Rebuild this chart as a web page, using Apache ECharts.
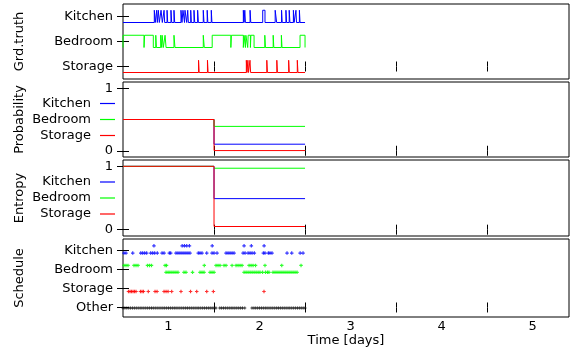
<!DOCTYPE html>
<html><head><meta charset="utf-8">
<script src="https://cdn.jsdelivr.net/npm/echarts@6/dist/echarts.min.js"></script>
<style>html,body{margin:0;padding:0;background:#fff}#c{width:571px;height:353px}</style>
</head><body><div id="c"></div>
<script>
// ---------- data (time in days from start of observation) ----------
const rooms = ['Kitchen', 'Bedroom', 'Storage'];
const gtLabels = ['Storage', 'Bedroom', 'Kitchen'];          // y levels 0,1,2 in ground-truth panel
const schedLabels = ['Other', 'Storage', 'Bedroom', 'Kitchen']; // y levels 0..3 in schedule panel
const dayTickLabels = ['1', '2', '3', '4', '5'];

// ground truth occupancy pulses [start, end]
const gtKitchen = [[0.344,0.355],[0.370,0.377],[0.388,0.399],[0.418,0.432],[0.451,0.458],[0.484,0.491],
  [0.527,0.535],[0.560,0.568],[0.637,0.648],[0.659,0.676],[0.681,0.700],[0.711,0.718],[0.744,0.751],
  [0.780,0.788],[0.820,0.828],[0.882,0.890],[0.925,0.932],[0.970,0.977],[1.322,1.330],[1.338,1.345],
  [1.396,1.404],[1.535,1.560],[1.672,1.688],[1.742,1.749],[1.790,1.797],[1.826,1.834],[1.872,1.880],
  [1.900,1.906],[1.938,1.945]];
const gtBedroom = [[0.000,0.231],[0.237,0.333],[0.360,0.367],[0.414,0.425],[0.430,0.443],[0.462,0.473],
  [0.560,0.571],[0.882,0.893],[0.980,1.185],[1.191,1.322],[1.330,1.345],[1.350,1.370],[1.375,1.400],
  [1.405,1.440],[1.558,1.565],[1.650,1.657],[1.740,1.747],[1.945,2.000]];
const gtStorage = [[0.830,0.837],[0.928,0.935],[1.355,1.362],[1.372,1.379],[1.395,1.402],[1.580,1.587],
  [1.690,1.697],[1.820,1.827],[1.915,1.922]];
const gtEnd = 2.0;

// probability / entropy: value before and after the change at t = 1
const changeT = 1.0;
const probKitchen = [0.5, 0.105];
const probBedroom = [0.5, 0.39];
const probStorage = [0.5, 0.003];
const entKitchen = [1.0, 0.49];
const entBedroom = [1.0, 0.97];
const entStorage = [1.0, 0.05];

// schedule marks (times)
const schedKitchenHi = [0.340,0.650,0.675,0.700,0.730,0.980,1.330,1.410,1.550];
const schedKitchenLo = [0.011,0.033,0.107,0.195,0.216,0.238,0.260,0.304,0.326,0.348,0.377,0.429,0.451,0.509,
  0.524,0.582,0.604,0.626,0.648,0.670,0.692,0.714,0.736,0.827,0.846,0.868,0.920,0.978,1.000,1.033,1.132,
  1.154,1.176,1.198,1.220,1.319,1.341,1.374,1.396,1.418,1.443,1.542,1.560,1.597,1.615,1.637,1.802,1.854,
  1.946,1.978];
const schedBedroomHi = [0.011,0.033,0.055,0.121,0.143,0.165,0.269,0.291,0.313,0.462,0.478,0.893,1.022,1.044,
  1.066,1.110,1.132,1.198,1.242,1.264,1.286,1.308,1.385,1.407,1.429,1.456,1.560,1.744,1.956];
const schedBedroomLo = [0.473,0.495,0.516,0.538,0.560,0.582,0.604,0.670,0.692,0.764,0.846,0.868,0.890,0.956,
  0.978,1.000,1.330,1.352,1.374,1.396,1.418,1.440,1.462,1.484,1.505,1.533,1.566,1.588,1.604,1.648,1.670,
  1.692,1.714,1.736,1.758,1.780,1.802,1.824,1.846,1.868,1.890,1.912];
const schedStorage = [0.060,0.077,0.093,0.110,0.126,0.143,0.192,0.209,0.225,0.278,0.352,0.374,0.451,0.473,
  0.495,0.535,0.637,0.742,0.810,0.920,0.993,1.549];
const schedOther = [0.000,0.021,0.042,0.063,0.083,0.104,0.125,0.146,0.167,0.188,0.208,0.229,0.250,0.271,
  0.292,0.313,0.333,0.354,0.375,0.396,0.417,0.438,0.458,0.479,0.500,0.521,0.542,0.563,0.583,0.604,0.625,
  0.646,0.667,0.688,0.708,0.729,0.750,0.771,0.792,0.813,0.833,0.854,0.875,0.896,0.917,0.938,0.958,0.979,
  1.000,1.021,1.063,1.083,1.104,1.125,1.146,1.167,1.188,1.208,1.229,1.250,1.271,1.292,1.313,1.338,1.417,
  1.438,1.458,1.479,1.500,1.521,1.542,1.563,1.583,1.604,1.625,1.646,1.667,1.688,1.708,1.729,1.750,1.771,
  1.792,1.813,1.833,1.854,1.875,1.896,1.917,1.938,1.958,1.979,2.000];

// ---------- styling / helpers ----------
const C = {Kitchen:'#0000ff', Bedroom:'#00ff00', Storage:'#ff0000', Other:'#000000'};
const FONT = 'DejaVu Sans';
const LO = -0.24, HI = 0.25;

function pulseLine(pulses, level) {
  const pts = [];
  if (!pulses.length || pulses[0][0] > 0) pts.push([0, level + LO]);
  for (const [s, e] of pulses) {
    pts.push([s, level + LO]); pts.push([s, level + HI]);
    pts.push([e, level + HI]); pts.push([e, level + LO]);
  }
  pts.push([gtEnd, level + LO]);
  return pts;
}
// horizontal segment before the change, vertical jump, horizontal after; tiny jumps drawn as separate pieces
function stepLine(vals) {
  if (Math.abs(vals[0] - vals[1]) < 0.1)
    return [[0, vals[0]], [changeT, vals[0]], [changeT, '-'], [changeT, vals[1]], [gtEnd, vals[1]]];
  return [[0, vals[0]], [changeT, vals[0]], [changeT, vals[1]], [gtEnd, vals[1]]];
}
function marks(ts, y) { return ts.map(t => [t, y]); }

const grids = [
  {left:123, right:2, top:4, height:75},
  {left:123, right:2, top:82, height:75},
  {left:123, right:2, top:160, height:76},
  {left:123, right:2, top:239, height:78}
].map(g => Object.assign(g, {show:true, borderColor:'#000', borderWidth:1, backgroundColor:'rgba(0,0,0,0)'}));

const XMAX = 4.9;
const xAxes = [];
for (let i = 0; i < 4; i++) {
  for (const pos of ['bottom', 'top']) {
    const last = (i === 3 && pos === 'bottom');
    xAxes.push({
      gridIndex:i, type:'value', position:pos, min:0, max:XMAX,
      axisLine:{show:false}, splitLine:{show:false},
      axisTick:{show:true, inside:true, length:5, customValues:[1,2,3,4], lineStyle:{color:'#000', width:1}},
      axisLabel: last ? {show:true, customValues:[0.5,1.5,2.5,3.5,4.5],
        formatter: v => dayTickLabels[Math.round(v - 0.5)], color:'#000', fontFamily:FONT, fontSize:13, margin:3}
        : {show:false},
      name: last ? 'Time [days]' : '', nameLocation:'middle', nameGap:17,
      nameTextStyle:{color:'#000', fontFamily:FONT, fontSize:13}
    });
  }
}

const yDefs = [
  {min:-0.5, max:2.5, ticks:[0,1,2], fmt: v => gtLabels[Math.round(v)], name:'Grd.truth'},
  {min:-0.1, max:1.1, ticks:[0,1], fmt: v => String(Math.round(v)), name:'Probability'},
  {min:-0.1, max:1.1, ticks:[0,1], fmt: v => String(Math.round(v)), name:'Entropy'},
  {min:-0.5, max:3.6, ticks:[0,1,2,3], fmt: v => schedLabels[Math.round(v)], name:'Schedule'}
];
const yAxes = [];
yDefs.forEach((d, i) => {
  for (const pos of ['left', 'right']) {
    const left = pos === 'left';
    yAxes.push({
      gridIndex:i, type:'value', position:pos, min:d.min, max:d.max,
      axisLine:{show:false}, splitLine:{show:false},
      axisTick:{show:true, inside:true, length:6, customValues:d.ticks, lineStyle:{color:'#000', width:1}},
      axisLabel: left ? {show:true, customValues:d.ticks, formatter:d.fmt, color:'#000',
        fontFamily:FONT, fontSize:13, margin:10} : {show:false},
      name: left ? d.name : '', nameLocation:'middle', nameRotate:90, nameGap:97,
      nameTextStyle:{color:'#000', fontFamily:FONT, fontSize:13}
    });
  }
});

const series = [];
function line(name, data, gi) {
  series.push({type:'line', name, data, xAxisIndex:gi*2, yAxisIndex:gi*2, symbol:'none',
    connectNulls:false, color:C[name], lineStyle:{color:C[name], width:1}, animation:false, silent:true});
}
function scatter(name, data, gi, size) {
  series.push({type:'scatter', name, data, xAxisIndex:gi*2, yAxisIndex:gi*2,
    symbol:'path://M1,0H2V1H3V2H2V3H1V2H0V1H1Z', symbolSize:size,
    color:C[name], itemStyle:{color:C[name]}, animation:false, silent:true});
}
line('Kitchen', pulseLine(gtKitchen, 2), 0);
line('Bedroom', pulseLine(gtBedroom, 1), 0);
line('Storage', pulseLine(gtStorage, 0), 0);
line('Kitchen', stepLine(probKitchen), 1);
line('Bedroom', stepLine(probBedroom), 1);
line('Storage', stepLine(probStorage), 1);
line('Kitchen', stepLine(entKitchen), 2);
line('Bedroom', stepLine(entBedroom), 2);
line('Storage', stepLine(entStorage), 2);
scatter('Kitchen', marks(schedKitchenHi, 3.24), 3, 3.5);
scatter('Kitchen', marks(schedKitchenLo, 2.86), 3, 3.5);
scatter('Bedroom', marks(schedBedroomHi, 2.21), 3, 3.5);
scatter('Bedroom', marks(schedBedroomLo, 1.85), 3, 3.5);
scatter('Storage', marks(schedStorage, 0.84), 3, 3.5);
scatter('Other', marks(schedOther, -0.03), 3, 3);

function legend(top) {
  return {data:rooms, orient:'vertical', align:'right', right:456, top, padding:0,
    itemWidth:15, itemHeight:1.2, icon:'rect', itemGap:2, selectedMode:false,
    textStyle:{color:'#000', fontFamily:FONT, fontSize:13, lineHeight:14, padding:[0,4,0,0]}};
}

const chart = echarts.init(document.getElementById('c'), null, {renderer:'canvas'});
chart.setOption({
  animation:false, backgroundColor:'#fff',
  grid:grids, xAxis:xAxes, yAxis:yAxes, series,
  legend:[legend(96.5), legend(175)]
});
</script></body></html>
